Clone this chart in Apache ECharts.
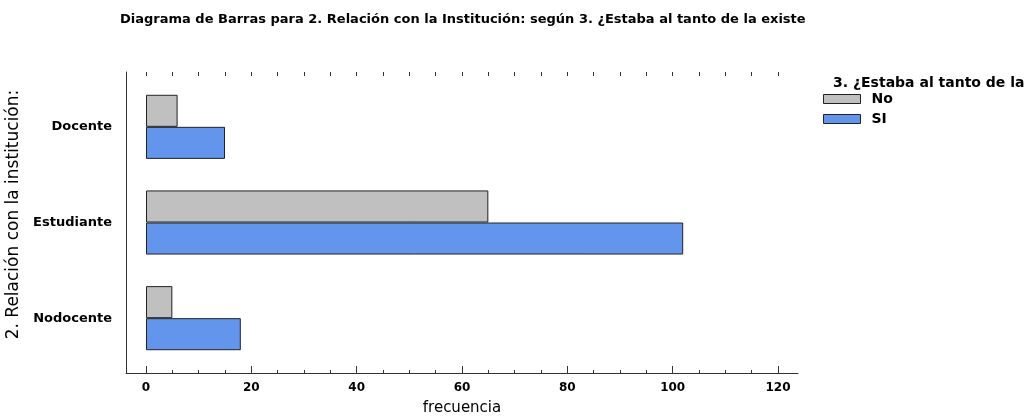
<!DOCTYPE html>
<html>
<head>
<meta charset="utf-8">
<script src="https://cdn.jsdelivr.net/npm/echarts@6/dist/echarts.min.js"></script>
<style>
  html, body { margin: 0; padding: 0; background: #fff; }
  #chart { width: 1031px; height: 419px; }
</style>
</head>
<body>
<div id="chart"></div>
<script>
// datos
const categorias = ['Docente', 'Estudiante', 'Nodocente']
const valoresNo = [6, 65, 5]
const valoresSi = [15, 102, 18]
const ticksX = [0, 20, 40, 60, 80, 100, 120]

const fuente = '"DejaVu Sans", sans-serif'

const myCharts = echarts.init(document.getElementById('chart'))

const option = {
  animation: false,
  textStyle: { fontFamily: fuente },
  title: [
    {
      text: 'Diagrama de Barras para 2. Relación con la Institución: según 3. ¿Estaba al tanto de la existe',
      left: 120,
      top: 13,
      padding: 0,
      textStyle: { fontSize: 13, fontWeight: 'bold', color: '#000', fontFamily: fuente }
    },
    {
      text: '3. ¿Estaba al tanto de la',
      left: 833,
      top: 76,
      padding: 0,
      textStyle: { fontSize: 14, fontWeight: 'bold', color: '#000', fontFamily: fuente }
    }
  ],
  legend: {
    orient: 'vertical',
    left: 823,
    top: 92,
    padding: 0,
    itemWidth: 37,
    itemHeight: 9,
    itemGap: 6,
    icon: 'rect',
    itemStyle: { borderWidth: 1, borderColor: '#222' },
    textStyle: { fontSize: 14, fontWeight: 'bold', color: '#000', fontFamily: fuente, padding: [0, 0, 0, 6] },
    data: ['No', 'SI']
  },
  // grid 0: barras, grid 1: solo el marco de ejes
  grid: [
    { left: 146, width: 632, top: 79, height: 287, outerBoundsMode: 'none', containLabel: false },
    { left: 126, width: 672, top: 72, height: 301, outerBoundsMode: 'none', containLabel: false }
  ],
  xAxis: [
    {
      type: 'value',
      gridIndex: 0,
      min: ticksX[0],
      max: ticksX[ticksX.length - 1],
      interval: 20,
      offset: 7,
      axisLine: { show: false },
      axisTick: { show: true, inside: true, length: 7, lineStyle: { color: '#333' } },
      minorTick: { show: true, splitNumber: 4, length: 3, lineStyle: { color: '#333' } },
      splitLine: { show: false },
      axisLabel: { color: '#000', fontSize: 12, fontWeight: 'bold', margin: 9, fontFamily: fuente },
      name: 'frecuencia',
      nameLocation: 'middle',
      nameGap: 28,
      nameTextStyle: { color: '#000', fontSize: 15, fontFamily: fuente }
    },
    {
      // marcas pequeñas arriba
      type: 'value',
      gridIndex: 0,
      position: 'top',
      min: 0,
      max: 120,
      interval: 5,
      offset: 7,
      axisLine: { show: false },
      axisTick: { show: true, inside: true, length: 4, lineStyle: { color: '#333' } },
      axisLabel: { show: false },
      splitLine: { show: false }
    },
    {
      type: 'value',
      gridIndex: 1,
      min: 0,
      max: 1,
      axisLine: { show: true, lineStyle: { color: '#333', width: 1 } },
      axisTick: { show: false },
      axisLabel: { show: false },
      splitLine: { show: false }
    }
  ],
  yAxis: [
    {
      type: 'category',
      gridIndex: 0,
      data: categorias,
      inverse: true,
      axisLine: { show: false },
      axisTick: { show: false },
      axisLabel: { color: '#000', fontSize: 13, fontWeight: 'bold', margin: 34, fontFamily: fuente, padding: [6, 0, 0, 0] },
      name: '2. Relación con la institución:',
      nameLocation: 'middle',
      nameRotate: 90,
      nameGap: 123,
      nameTextStyle: { color: '#000', fontSize: 17, fontFamily: fuente, padding: [0, 0, 0, 16] }
    },
    {
      type: 'value',
      gridIndex: 1,
      min: 0,
      max: 1,
      axisLine: { show: true, lineStyle: { color: '#333', width: 1 } },
      axisTick: { show: false },
      axisLabel: { show: false },
      splitLine: { show: false }
    }
  ],
  series: [
    {
      name: 'No',
      type: 'bar',
      xAxisIndex: 0,
      yAxisIndex: 0,
      data: valoresNo,
      barGap: '0%',
      barCategoryGap: '33%',
      itemStyle: { color: '#c0c0c0', borderColor: '#222', borderWidth: 1 }
    },
    {
      name: 'SI',
      type: 'bar',
      xAxisIndex: 0,
      yAxisIndex: 0,
      data: valoresSi,
      barGap: '0%',
      barCategoryGap: '33%',
      itemStyle: { color: '#6495ed', borderColor: '#222', borderWidth: 1 }
    }
  ]
}

myCharts.setOption(option)
</script>
</body>
</html>
